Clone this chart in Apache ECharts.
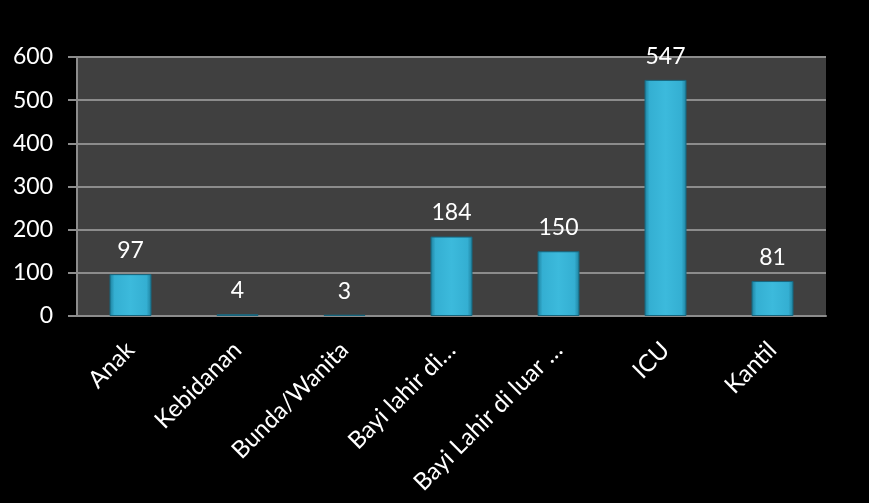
<!DOCTYPE html>
<html>
<head>
<meta charset="utf-8">
<script src="https://cdn.jsdelivr.net/npm/echarts@6/dist/echarts.min.js"></script>
<style>
html,body{margin:0;padding:0;background:#000;}
#c{width:869px;height:503px;}
</style>
</head>
<body>
<div id="c"></div>
<script>
var categories = ["Anak", "Kebidanan", "Bunda/Wanita", "Bayi lahir di…", "Bayi Lahir di luar …", "ICU", "Kantil"];
var values = [97, 4, 3, 184, 150, 547, 81];
var yTicks = [0, 100, 200, 300, 400, 500, 600];

var chart = echarts.init(document.getElementById('c'));
var font = 'Lato, "Open Sans", sans-serif';
chart.setOption({
  backgroundColor: '#000',
  animation: false,
  grid: {
    left: 77, right: 43, top: 57, bottom: 187,
    show: true, backgroundColor: '#404040', borderWidth: 0
  },
  xAxis: {
    type: 'category',
    data: categories,
    axisLine: { show: true, lineStyle: { color: '#8c8c8c', width: 2 } },
    axisTick: { show: false },
    axisLabel: { color: '#fff', fontSize: 24, fontFamily: font, rotate: 45, margin: 30, interval: 0 }
  },
  yAxis: {
    type: 'value',
    min: yTicks[0], max: yTicks[yTicks.length - 1], interval: 100,
    axisLine: { show: true, lineStyle: { color: '#8c8c8c', width: 2 } },
    axisTick: { show: true, length: 9, lineStyle: { color: '#8c8c8c', width: 2 } },
    splitLine: { show: true, lineStyle: { color: '#8c8c8c', width: 2 } },
    axisLabel: { color: '#fff', fontSize: 23, fontFamily: font, margin: 24 }
  },
  series: [{
    type: 'bar',
    data: values,
    barWidth: 42,
    itemStyle: {
      color: new echarts.graphic.LinearGradient(0, 0, 1, 0, [
        { offset: 0, color: '#1d7f9c' },
        { offset: 0.12, color: '#34afd2' },
        { offset: 0.5, color: '#3cbadc' },
        { offset: 0.88, color: '#34afd2' },
        { offset: 1, color: '#1d7f9c' }
      ]),
      borderColor: '#17667e',
      borderWidth: 1
    },
    label: {
      show: true, position: 'top', distance: 12,
      color: '#fff', fontSize: 23, fontFamily: font
    }
  }]
});
</script>
</body>
</html>
